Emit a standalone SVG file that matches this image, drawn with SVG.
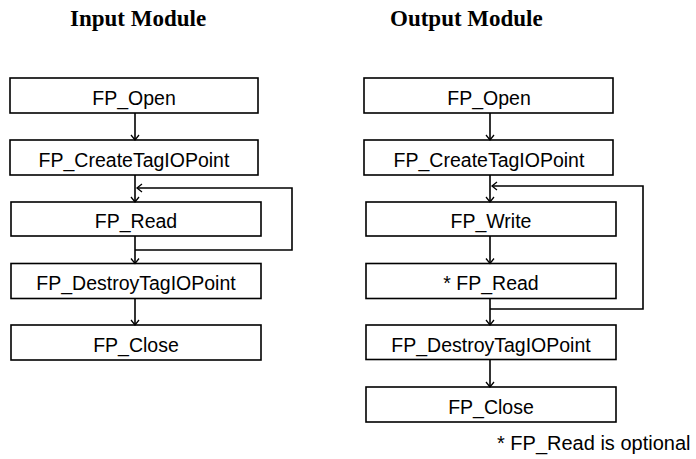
<svg xmlns="http://www.w3.org/2000/svg" width="696" height="459" viewBox="0 0 696 459">
  <defs>
    <style>
      .title { font-family: "Liberation Serif", "Times New Roman", serif; font-weight: bold; font-size: 23px; fill: #000; }
      .box { fill: #fff; stroke: #000; stroke-width: 1.6; }
      .label { font-family: "Liberation Sans", Arial, sans-serif; font-size: 19.5px; fill: #000; text-anchor: middle; }
      .note { font-family: "Liberation Sans", Arial, sans-serif; font-size: 20px; fill: #000; }
      .wire { fill: none; stroke: #000; stroke-width: 1.6; }
    </style>
    <marker id="arrow" markerWidth="10" markerHeight="10" refX="8" refY="5" orient="auto" markerUnits="userSpaceOnUse">
      <polyline points="3,1 8,5 3,9" fill="none" stroke="#000" stroke-width="1.3"/>
    </marker>
  </defs>
  <rect width="696" height="459" fill="#fff"/>

  <text class="title" x="70" y="26">Input Module</text>
  <text class="title" x="390" y="26">Output Module</text>

  <!-- Input module flow -->
  <g id="in-open"><rect class="box" x="10" y="78" width="248" height="35"/><text class="label" x="134" y="104.5">FP_Open</text></g>
  <g id="in-create"><rect class="box" x="10" y="140" width="248" height="35"/><text class="label" x="134" y="166.5">FP_CreateTagIOPoint</text></g>
  <g id="in-read"><rect class="box" x="11" y="202" width="250" height="34"/><text class="label" x="136" y="227.5">FP_Read</text></g>
  <g id="in-destroy"><rect class="box" x="11" y="263.5" width="250" height="35"/><text class="label" x="136" y="289.5">FP_DestroyTagIOPoint</text></g>
  <g id="in-close"><rect class="box" x="11" y="325" width="250" height="35"/><text class="label" x="136" y="351.5">FP_Close</text></g>

  <!-- Output module flow -->
  <g id="out-open"><rect class="box" x="364" y="78" width="249" height="35"/><text class="label" x="489" y="104.5">FP_Open</text></g>
  <g id="out-create"><rect class="box" x="364" y="140" width="249" height="35"/><text class="label" x="489" y="166.5">FP_CreateTagIOPoint</text></g>
  <g id="out-write"><rect class="box" x="366" y="202" width="250" height="34"/><text class="label" x="491" y="227.5">FP_Write</text></g>
  <g id="out-read"><rect class="box" x="366" y="263.5" width="250" height="35"/><text class="label" x="491" y="289.5">* FP_Read</text></g>
  <g id="out-destroy"><rect class="box" x="366" y="325" width="250" height="34.5"/><text class="label" x="491" y="351.5">FP_DestroyTagIOPoint</text></g>
  <g id="out-close"><rect class="box" x="366" y="387" width="250" height="35"/><text class="label" x="491" y="413.5">FP_Close</text></g>

  <text class="note" x="497" y="449.5">* FP_Read is optional</text>

  <g id="connectors">
    <!-- input -->
    <line class="wire" x1="135" y1="113" x2="135" y2="140" marker-end="url(#arrow)"/>
    <line class="wire" x1="135" y1="175" x2="135" y2="202" marker-end="url(#arrow)"/>
    <line class="wire" x1="135" y1="236" x2="135" y2="263.5" marker-end="url(#arrow)"/>
    <line class="wire" x1="135" y1="298.5" x2="135" y2="325" marker-end="url(#arrow)"/>
    <polyline class="wire" points="135,250 292,250 292,188 137,188" marker-end="url(#arrow)"/>
    <!-- output -->
    <line class="wire" x1="490" y1="113" x2="490" y2="140" marker-end="url(#arrow)"/>
    <line class="wire" x1="490" y1="175" x2="490" y2="202" marker-end="url(#arrow)"/>
    <line class="wire" x1="490" y1="236" x2="490" y2="263.5" marker-end="url(#arrow)"/>
    <line class="wire" x1="490" y1="298.5" x2="490" y2="325" marker-end="url(#arrow)"/>
    <line class="wire" x1="490" y1="359.5" x2="490" y2="387" marker-end="url(#arrow)"/>
    <polyline class="wire" points="490,309 643,309 643,186 492,186" marker-end="url(#arrow)"/>
  </g>
</svg>
